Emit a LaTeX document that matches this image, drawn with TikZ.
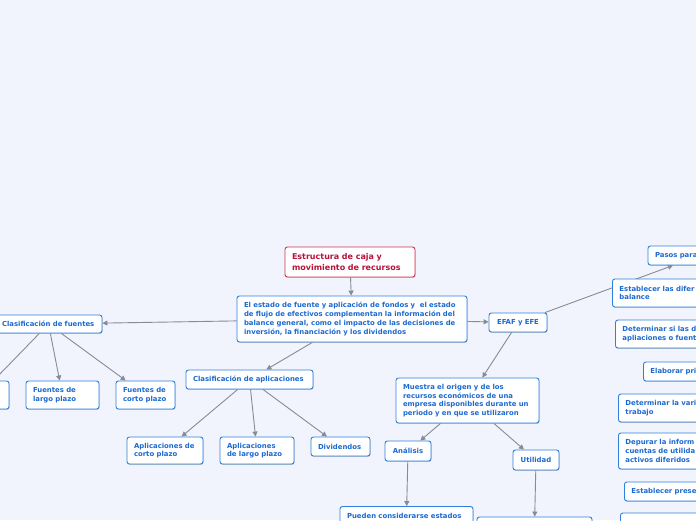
\documentclass[tikz,border=0pt]{standalone}
\usepackage{fontspec}
\usetikzlibrary{arrows.meta,shadows}
\newfontfamily\mapfont{DejaVu Sans}
\definecolor{bgblue}{RGB}{241,244,252}
\definecolor{boxline}{RGB}{47,128,221}
\definecolor{boxtext}{RGB}{28,106,208}
\definecolor{rootline}{RGB}{210,51,79}
\definecolor{roottext}{RGB}{184,18,58}
\definecolor{connline}{RGB}{135,139,147}

\begin{document}
\begin{tikzpicture}[
    x=1pt, y=-1pt,
    box/.style={draw=boxline, fill=white, line width=0.9pt, rounded corners=2.5pt,
        text=boxtext, align=left, inner xsep=7pt, inner ysep=3pt,
        font=\mapfont\bfseries\fontsize{6.9}{8.7}\selectfont,
        drop shadow={shadow xshift=0.5pt, shadow yshift=-0.9pt, fill=black, opacity=0.2}},
    rootbox/.style={box, draw=rootline, text=roottext,
        font=\mapfont\bfseries\fontsize{8}{11}\selectfont},
    conn/.style={draw=connline, line width=0.9pt, -{Triangle[length=5pt,width=5pt]}}
]
    \useasboundingbox (0,0) rectangle (696,520);
    \clip (0,0) rectangle (696,520);
    \fill[bgblue] (0,0) rectangle (696,520);

    % Root and central topic
    \node[rootbox, text width=116pt, minimum height=30pt] (root) at (350,262)
        {Estructura de caja y\\movimiento de recursos};
    \node[box, text width=216pt, minimum height=46pt] (main) at (352,319)
        {El estado de fuente y aplicación de fondos y \ el estado\\de flujo de efectivos complementan la información del\\balance general, como el impacto de las decisiones de\\inversión, la financiación y los dividendos};

    % Sources branch
    \node[box, text width=93pt, minimum height=18pt] (fuentes) at (48.5,324) {Clasificación de fuentes};
    \node[box, text width=45pt, minimum height=28pt] (fcut) at (-20.5,395) {};
    \node[box, text width=59pt, minimum height=28pt] (flargo) at (62.5,395) {Fuentes de\\largo plazo};
    \node[box, text width=45pt, minimum height=28pt] (fcorto) at (145.5,395) {Fuentes de\\corto plazo};

    % Applications branch
    \node[box, text width=113pt, minimum height=19pt] (aplic) at (249.5,379.5) {Clasificación de aplicaciones};
    \node[box, text width=62pt, minimum height=27pt] (acorto) at (165,450.5) {Aplicaciones de\\corto plazo};
    \node[box, text width=60pt, minimum height=27pt] (alargo) at (257,450.5) {Aplicaciones\\de largo plazo};
    \node[box, text width=45pt, minimum height=19pt] (divid) at (340.5,446.5) {Dividendos};

    % EFAF y EFE branch
    \node[box, text width=44pt, minimum height=19pt, align=center] (efaf) at (518,322.5) {EFAF y EFE};
    \node[box, text width=129pt, minimum height=45pt] (muestra) at (467.5,400.5)
        {Muestra el origen y de los\\recursos económicos de una\\empresa disponibles durante un\\periodo y en que se utilizaron};
    \node[box, text width=32pt, minimum height=20pt, align=center] (analisis) at (408,451) {Análisis};
    \node[box, text width=32pt, minimum height=20pt, align=center] (utilidad) at (536,460) {Utilidad};
    \node[box, text width=119pt, minimum height=18pt] (pueden) at (406.5,515.5) {Pueden considerarse estados};
    \node[box, text width=101pt, minimum height=19pt] (ubajo) at (534.5,526.5) {};
    \node[box, text width=90pt, minimum height=19pt] (pasos) at (700,255.5) {Pasos para};

    % Connectors
    \draw[conn] (root) -- (main);
    \draw[conn] (main) -- (fuentes);
    \draw[conn] (main) -- (aplic);
    \draw[conn] (main) -- (efaf);
    \draw[conn] (fuentes) -- (fcut);
    \draw[conn] (fuentes) -- (flargo);
    \draw[conn] (fuentes) -- (fcorto);
    \draw[conn] (aplic) -- (acorto);
    \draw[conn] (aplic) -- (alargo);
    \draw[conn] (aplic) -- (divid);
    \draw[conn] (efaf) -- (muestra);
    \draw[conn] (muestra) -- (analisis);
    \draw[conn] (muestra) -- (utilidad);
    \draw[conn] (analisis) -- (pueden);
    \draw[conn] (utilidad) -- (ubajo);
    \draw[conn] (efaf) -- (pasos);

    % Steps column (cut by the right edge)
    \node[box, text width=106pt, minimum height=28pt, anchor=west] (paso1) at (612,293)
        {Establecer las difer\\balance};
    \node[box, text width=106pt, minimum height=28pt, anchor=west] (paso2) at (615,334)
        {Determinar si las d\\apliaciones o fuent};
    \node[box, text width=106pt, minimum height=19pt, anchor=west] (paso3) at (643,371.5) {Elaborar pri};
    \node[box, text width=106pt, minimum height=28pt, anchor=west] (paso4) at (618,408)
        {Determinar la vari\\trabajo};
    \node[box, text width=106pt, minimum height=36pt, anchor=west] (paso5) at (618,451)
        {Depurar la inform\\cuentas de utilida\\activos diferidos};
    \node[box, text width=106pt, minimum height=19pt, anchor=west] (paso6) at (624,491.5) {Establecer prese};
    \node[box, text width=106pt, minimum height=19pt, anchor=west] (paso7) at (620,522.5) {};
\end{tikzpicture}
\end{document}
